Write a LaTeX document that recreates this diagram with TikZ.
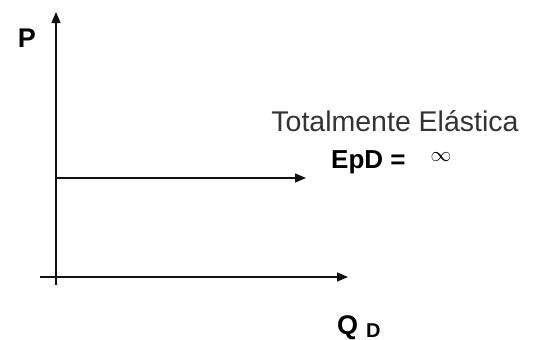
\documentclass[tikz,border=0pt]{standalone}
\usepackage{fontspec}
\setmainfont{Liberation Sans}
\usetikzlibrary{arrows.meta, positioning}

\begin{document}
\begin{tikzpicture}[x=1pt, y=-1pt,
    axisArrow/.style={line width=1.3pt, -{Triangle[length=11pt, width=9pt]}},
    axisLabel/.style={font=\fontsize{27}{27}\selectfont\bfseries, inner sep=0pt}]

    % Fix the picture size
    \useasboundingbox (0,0) rectangle (539,340);

    \definecolor{lineColour}{HTML}{111111}
    \definecolor{textColour}{HTML}{333333}

    % Define the axis ends
    \coordinate (origin) at (56,277);
    \coordinate (yStart) at (56,285);
    \coordinate (yEnd) at (56,12);
    \coordinate (xStart) at (40,277);
    \coordinate (xEnd) at (348,277);

    % Draw axes
    \draw[axisArrow, draw=lineColour] (yStart) -- (yEnd);
    \draw[axisArrow, draw=lineColour] (xStart) -- (xEnd);

    % Label axes
    \node[axisLabel] (pLabel) at (27,38) {P};
    \node[axisLabel, anchor=base west] (qLabel) at (337,334) {Q};
    \node[font=\fontsize{20}{20}\selectfont\bfseries, inner sep=0pt, anchor=base west]
        (dLabel) at (366,337) {D};

    % Draw the demand curve
    \coordinate (demandStart) at (56,178);
    \coordinate (demandEnd) at (306,178);
    \draw[axisArrow, draw=lineColour] (demandStart) -- (demandEnd);

    % Label the elasticity
    \node[font=\fontsize{28.5}{28.5}\selectfont, text=textColour, inner sep=0pt, anchor=base] (title)
        at (395,131) {Totalmente Elástica};
    \node[font=\fontsize{26}{26}\selectfont\bfseries, inner sep=0pt, anchor=base west]
        (epd) at (331,168) {EpD =};
    \node[font=\fontsize{20}{20}\selectfont, inner sep=0pt] (infinity)
        at (441,157) {$\infty$};

\end{tikzpicture}
\end{document}
